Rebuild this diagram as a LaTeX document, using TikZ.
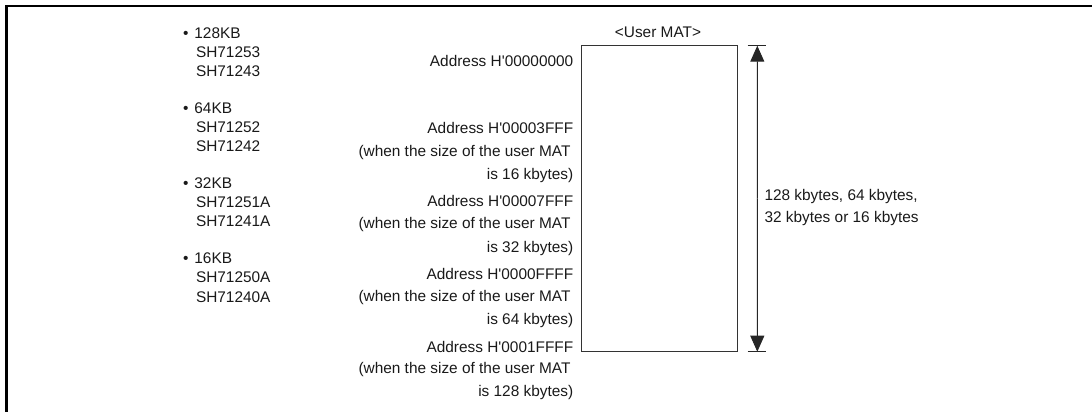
\documentclass[tikz,border=0pt]{standalone}
\usepackage{fontspec}
\setmainfont{Liberation Sans}
\usetikzlibrary{arrows.meta,calc}
\tikzset{
  txt/.style={inner sep=0pt, outer sep=0pt, font=\fontsize{15.4pt}{19pt}\selectfont, text=black!90},
  lw/.style={txt, anchor=base west},
  le/.style={txt, anchor=base east},
  frame/.style={line width=2.2pt, black},
  matbox/.style={draw=black!80, line width=0.9pt},
  dim/.style={draw=black!85, line width=0.9pt},
  tip/.style={-{Triangle[width=14pt,length=16pt]}}
}
\newcommand{\qq}{\textquotesingle}
\begin{document}
\begin{tikzpicture}[x=1pt,y=-1pt]
\useasboundingbox (0,0) rectangle (1092,412);
% frame (top and left)
\draw[frame] (6.5,412) -- (6.5,6.3) -- (1092,6.3);

% left list
\node[lw] (b1) at (183,38.2) {•\hspace{6pt}128KB};
\node[lw] (b1a) at (196,57.2) {SH71253};
\node[lw] (b1b) at (196,76.2) {SH71243};
\node[lw] (b2) at (183,113.8) {•\hspace{6pt}64KB};
\node[lw] (b2a) at (196,132.2) {SH71252};
\node[lw] (b2b) at (196,151.2) {SH71242};
\node[lw] (b3) at (183,188.8) {•\hspace{6pt}32KB};
\node[lw] (b3a) at (196,207.8) {SH71251A};
\node[lw] (b3b) at (196,226.2) {SH71241A};
\node[lw] (b4) at (183,263.8) {•\hspace{6pt}16KB};
\node[lw] (b4a) at (196,282.8) {SH71250A};
\node[lw] (b4b) at (196,302.2) {SH71240A};

% User MAT box
\node[txt, anchor=base] (title) at (658,37.2) {<User MAT>};
\draw[matbox] (581.3,45.7) rectangle (737.3,351.7);

% address labels
\node[le] (a0) at (573.3,66.5) {Address H\qq00000000};
\node[le] (a1) at (573.3,133.8) {Address H\qq00003FFF};
\node[le] (a1b) at (570.5,156.5) {(when the size of the user MAT};
\node[le] (a1c) at (573.3,179.5) {is 16 kbytes)};
\node[le] (a2) at (573.3,206.8) {Address H\qq00007FFF};
\node[le] (a2b) at (570.5,228.8) {(when the size of the user MAT};
\node[le] (a2c) at (573.3,252.2) {is 32 kbytes)};
\node[le] (a3) at (573.3,279.5) {Address H\qq0000FFFF};
\node[le] (a3b) at (570.5,301.5) {(when the size of the user MAT};
\node[le] (a3c) at (573.3,324.8) {is 64 kbytes)};
\node[le] (a4) at (573.3,352.2) {Address H\qq0001FFFF};
\node[le] (a4b) at (570.5,373.8) {(when the size of the user MAT};
\node[le] (a4c) at (573.3,396.2) {is 128 kbytes)};

% dimension arrow
\coordinate (ttl) at (747.7,45.7);
\coordinate (ttr) at (765.7,45.7);
\coordinate (tbl) at (747.7,351.7);
\coordinate (tbr) at (765.7,351.7);
\coordinate (mtop) at (757.3,45.7);
\coordinate (mbot) at (757.3,351.7);
\coordinate (mmid) at ($(mtop)!0.5!(mbot)$);
\draw[dim] (ttl) -- (ttr);
\draw[dim] (tbl) -- (tbr);
\draw[dim, tip] (mmid) -- (mtop);
\draw[dim, tip] (mmid) -- (mbot);
\node[lw] (size1) at (764.5,200.5) {128 kbytes, 64 kbytes,};
\node[lw] (size2) at (764.5,222.2) {32 kbytes or 16 kbytes};
\end{tikzpicture}
\end{document}
